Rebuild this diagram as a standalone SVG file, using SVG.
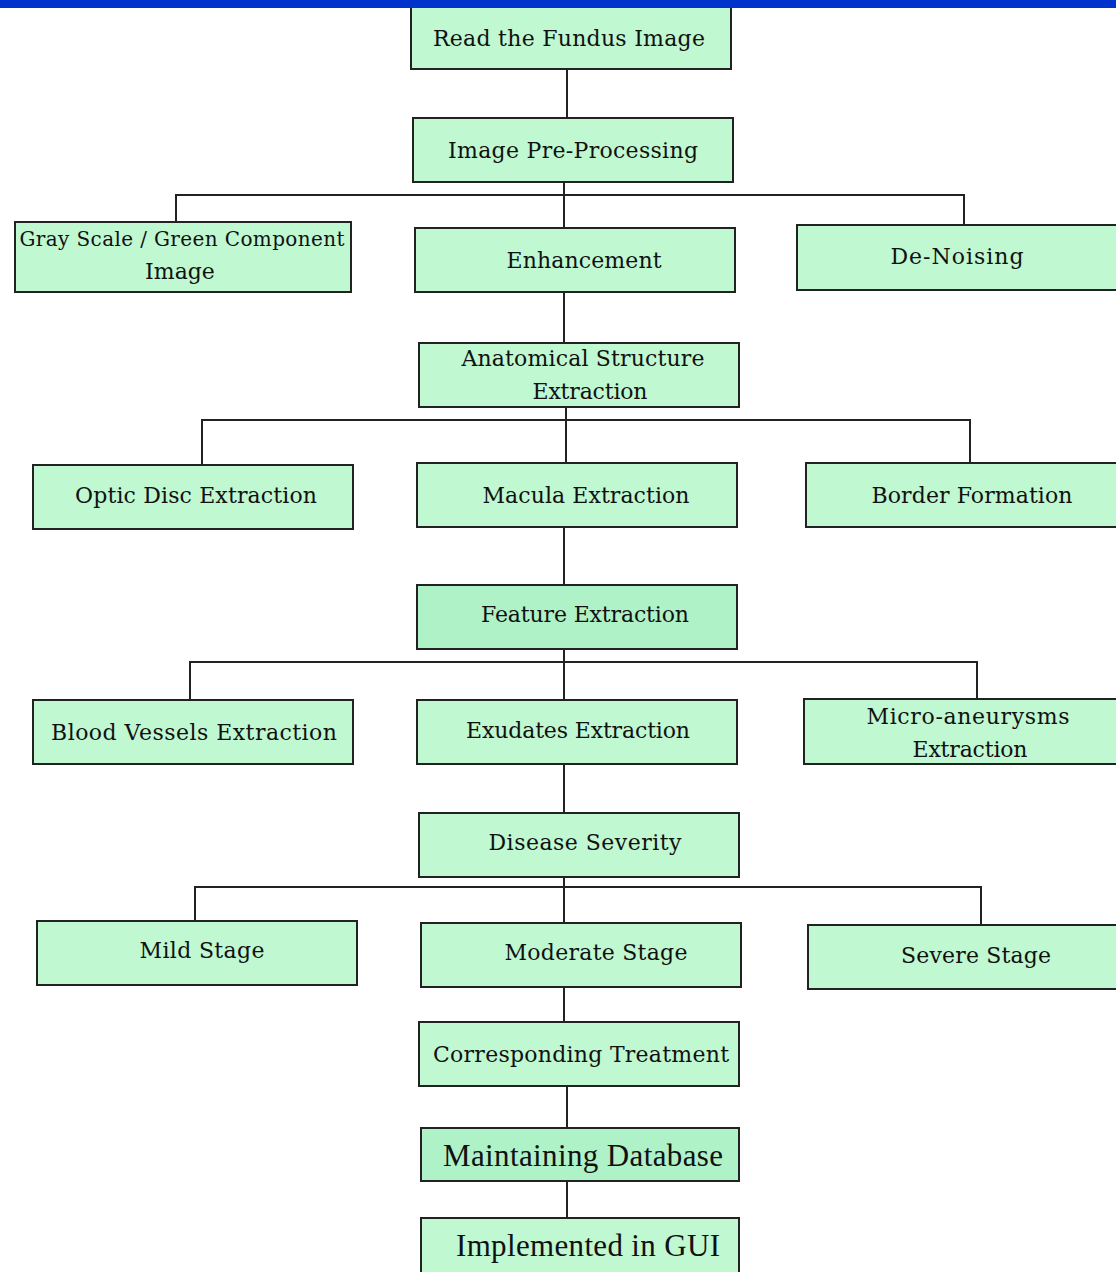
<svg xmlns="http://www.w3.org/2000/svg" width="1116" height="1272" viewBox="0 0 1116 1272">
<style>
.b{fill:#c0f8d2;stroke:#222;stroke-width:2}
.d{fill:#b0f2c8;stroke:#222;stroke-width:2}
.t{font-family:"DejaVu Serif","Liberation Serif",serif;font-size:22px;fill:#111;text-anchor:middle}
.s{font-size:20px}
.L{font-family:"Liberation Serif","Times New Roman",serif;font-size:31px;fill:#111;text-anchor:middle}
.c{fill:none;stroke:#222;stroke-width:2}
</style>
<rect x="0" y="0" width="1116" height="1272" fill="#fff"/>
<g id="connectors">
<path class="c" d="M567 69V118"/>
<path class="c" d="M564 182V228M176 222V195H964V225"/>
<path class="c" d="M564 292V343"/>
<path class="c" d="M566 407V463M202 465V420H970V463"/>
<path class="c" d="M564 527V585"/>
<path class="c" d="M564 649V700M190 700V662H977V699"/>
<path class="c" d="M564 764V813"/>
<path class="c" d="M564 877V923M195 921V887H981V925"/>
<path class="c" d="M564 987V1022"/>
<path class="c" d="M567 1086V1128"/>
<path class="c" d="M567 1181V1218"/>
</g>
<g id="n1"><rect class="b" x="411" y="-2" width="320" height="71"/><text class="t" x="569" y="46" textLength="272">Read the Fundus Image</text></g>
<g id="n2"><rect class="b" x="413" y="118" width="320" height="64"/><text class="t" x="573" y="158" textLength="250">Image Pre-Processing</text></g>
<g id="n3"><rect class="b" x="15" y="222" width="336" height="70"/><text class="t s" x="182" y="246" textLength="325">Gray Scale / Green Component</text><text class="t" x="180" y="279">Image</text></g>
<g id="n4"><rect class="b" x="415" y="228" width="320" height="64"/><text class="t" x="584" y="268" textLength="155">Enhancement</text></g>
<g id="n5"><rect class="b" x="797" y="225" width="330" height="65"/><text class="t" x="957" y="264" textLength="133">De-Noising</text></g>
<g id="n6"><rect class="b" x="419" y="343" width="320" height="64"/><text class="t" x="583" y="366" textLength="243">Anatomical Structure</text><text class="t" x="590" y="399" textLength="115">Extraction</text></g>
<g id="n7"><rect class="b" x="33" y="465" width="320" height="64"/><text class="t" x="196" y="503" textLength="242">Optic Disc Extraction</text></g>
<g id="n8"><rect class="b" x="417" y="463" width="320" height="64"/><text class="t" x="586" y="503" textLength="207">Macula Extraction</text></g>
<g id="n9"><rect class="b" x="806" y="463" width="320" height="64"/><text class="t" x="972" y="503" textLength="201">Border Formation</text></g>
<g id="n10"><rect class="d" x="417" y="585" width="320" height="64"/><text class="t" x="585" y="622" textLength="208">Feature Extraction</text></g>
<g id="n11"><rect class="b" x="33" y="700" width="320" height="64"/><text class="t" x="194" y="740" textLength="286">Blood Vessels Extraction</text></g>
<g id="n12"><rect class="b" x="417" y="700" width="320" height="64"/><text class="t" x="578" y="738" textLength="224">Exudates Extraction</text></g>
<g id="n13"><rect class="b" x="804" y="699" width="320" height="65"/><text class="t" x="968" y="724" textLength="203">Micro-aneurysms</text><text class="t" x="970" y="757" textLength="115">Extraction</text></g>
<g id="n14"><rect class="b" x="419" y="813" width="320" height="64"/><text class="t" x="585" y="850" textLength="193">Disease Severity</text></g>
<g id="n15"><rect class="b" x="37" y="921" width="320" height="64"/><text class="t" x="202" y="958" textLength="125">Mild Stage</text></g>
<g id="n16"><rect class="b" x="421" y="923" width="320" height="64"/><text class="t" x="596" y="960" textLength="183">Moderate Stage</text></g>
<g id="n17"><rect class="b" x="808" y="925" width="320" height="64"/><text class="t" x="976" y="963" textLength="150">Severe Stage</text></g>
<g id="n18"><rect class="b" x="419" y="1022" width="320" height="64"/><text class="t" x="581" y="1062" textLength="296">Corresponding Treatment</text></g>
<g id="n19"><rect class="d" x="421" y="1128" width="318" height="53"/><text class="L" x="583" y="1166" textLength="280">Maintaining Database</text></g>
<g id="n20"><rect class="b" x="421" y="1218" width="318" height="70"/><text class="L" x="588" y="1256" textLength="264">Implemented in GUI</text></g>
<rect x="0" y="0" width="1116" height="8" fill="#0033cc"/>
</svg>
